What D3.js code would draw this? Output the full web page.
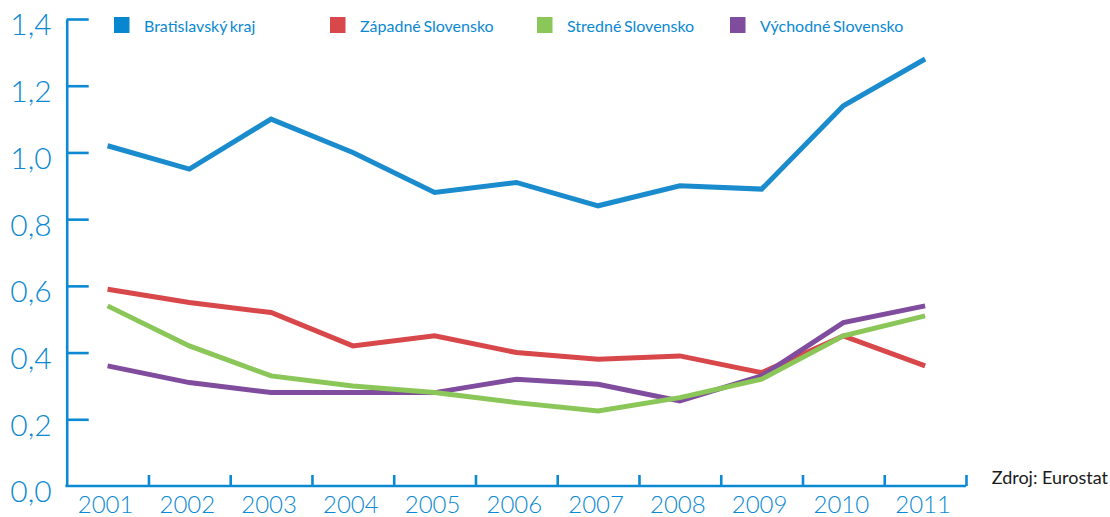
<!DOCTYPE html>
<html>
<head>
<meta charset="utf-8">
<script src="https://cdn.jsdelivr.net/npm/d3@7"></script>
<style>
  html, body { margin: 0; padding: 0; background: #fff; }
  svg { display: block; }
</style>
</head>
<body>
<svg id="chart" width="1110" height="517"></svg>
<script>
const years = ["2001","2002","2003","2004","2005","2006","2007","2008","2009","2010","2011"];
const seriesNames = ["Bratislavský kraj","Západné Slovensko","Stredné Slovensko","Východné Slovensko"];
const bratislavsky = [1.02, 0.95, 1.10, 1.00, 0.88, 0.91, 0.84, 0.90, 0.89, 1.14, 1.28];
const zapadne      = [0.59, 0.55, 0.52, 0.42, 0.45, 0.40, 0.38, 0.39, 0.34, 0.45, 0.36];
const stredne      = [0.54, 0.42, 0.33, 0.30, 0.28, 0.25, 0.225, 0.265, 0.32, 0.45, 0.51];
const vychodne     = [0.36, 0.31, 0.28, 0.28, 0.28, 0.32, 0.305, 0.255, 0.33, 0.49, 0.54];
const yTicks = [0, 0.2, 0.4, 0.6, 0.8, 1.0, 1.2, 1.4];
const source = "Zdroj: Eurostat";

const colors = ["#1a8bcd", "#d8474a", "#8bc659", "#804c9e"];
const legendColors = ["#0787d0", "#d8474a", "#8bc659", "#804c9e"];
const axisColor = "#0b89d2";
const values = [bratislavsky, zapadne, stredne, vychodne];

const svg = d3.select("#chart");
const mLeft = 66.7, mRight = 966, mTop = 19, mBottom = 486;

const x = d3.scaleBand().domain(years).range([mLeft, mRight]).paddingInner(0).paddingOuter(0);
const xb = d3.scaleLinear().domain([0, years.length]).range([mLeft, mRight]);
const y = d3.scaleLinear().domain([0, 1.4]).range([mBottom, mTop]);

// y axis
const yAxis = svg.append("g")
  .attr("transform", `translate(${mLeft},0)`)
  .call(d3.axisLeft(y).tickValues(yTicks).tickSize(-22).tickPadding(15)
    .tickSizeOuter(0)
    .tickFormat(d => d3.format(".1f")(d).replace(".", ",")));
yAxis.select(".domain").attr("stroke", axisColor).attr("stroke-width", 2.6);
yAxis.selectAll(".tick line").attr("stroke", axisColor).attr("stroke-width", 2.6)
  .filter(d => d === 0).remove();
yAxis.selectAll(".tick text")
  .attr("fill", axisColor).attr("font-family", "Lato, sans-serif")
  .attr("font-weight", 300).attr("font-size", 30).attr("dy", "0.53em");

// x axis tick marks (band boundaries)
const xTickAxis = svg.append("g")
  .attr("transform", `translate(0,${mBottom})`)
  .call(d3.axisBottom(xb).tickValues(d3.range(1, years.length + 1)).tickSize(-11)
    .tickSizeOuter(0).tickFormat(""));
xTickAxis.select(".domain").attr("stroke", axisColor).attr("stroke-width", 2.6)
  .attr("d", `M${mLeft - 1.3},0H${mRight}`);
xTickAxis.selectAll(".tick line").attr("stroke", axisColor).attr("stroke-width", 2.6);

// x labels
const xLab = svg.append("g")
  .attr("transform", `translate(0,${mBottom})`)
  .call(d3.axisBottom(x).tickSize(0).tickPadding(10));
xLab.select(".domain").remove();
xLab.selectAll(".tick text")
  .attr("fill", axisColor).attr("font-family", "Lato, sans-serif")
  .attr("font-weight", 300).attr("font-size", 24).attr("dx", "-2");

// lines
const line = d3.line()
  .x((d, i) => x(years[i]) + x.bandwidth() / 2)
  .y(d => y(d));
const order = [0, 1, 3, 2];
svg.append("g").selectAll("path")
  .data(order)
  .join("path")
  .attr("d", i => line(values[i]))
  .attr("fill", "none")
  .attr("stroke", i => colors[i])
  .attr("stroke-width", 5)
  .attr("stroke-linejoin", "miter");

// legend
const legendX = [114, 330, 537, 730];
const lg = svg.append("g").selectAll("g")
  .data(seriesNames)
  .join("g")
  .attr("transform", (d, i) => `translate(${legendX[i]},17)`);
lg.append("rect").attr("width", 15.5).attr("height", 16)
  .attr("fill", (d, i) => legendColors[i]);
lg.append("text").attr("x", 30).attr("y", 14.5)
  .attr("fill", axisColor).attr("font-family", "Lato, sans-serif")
  .attr("font-size", 16).attr("word-spacing", "-1.5")
  .text(d => d);

// source
svg.append("text").attr("x", 1108).attr("y", 484).attr("text-anchor", "end")
  .attr("font-family", "Lato, sans-serif").attr("font-size", 18).attr("fill", "#1a1a1a")
  .text(source);
</script>
</body>
</html>
